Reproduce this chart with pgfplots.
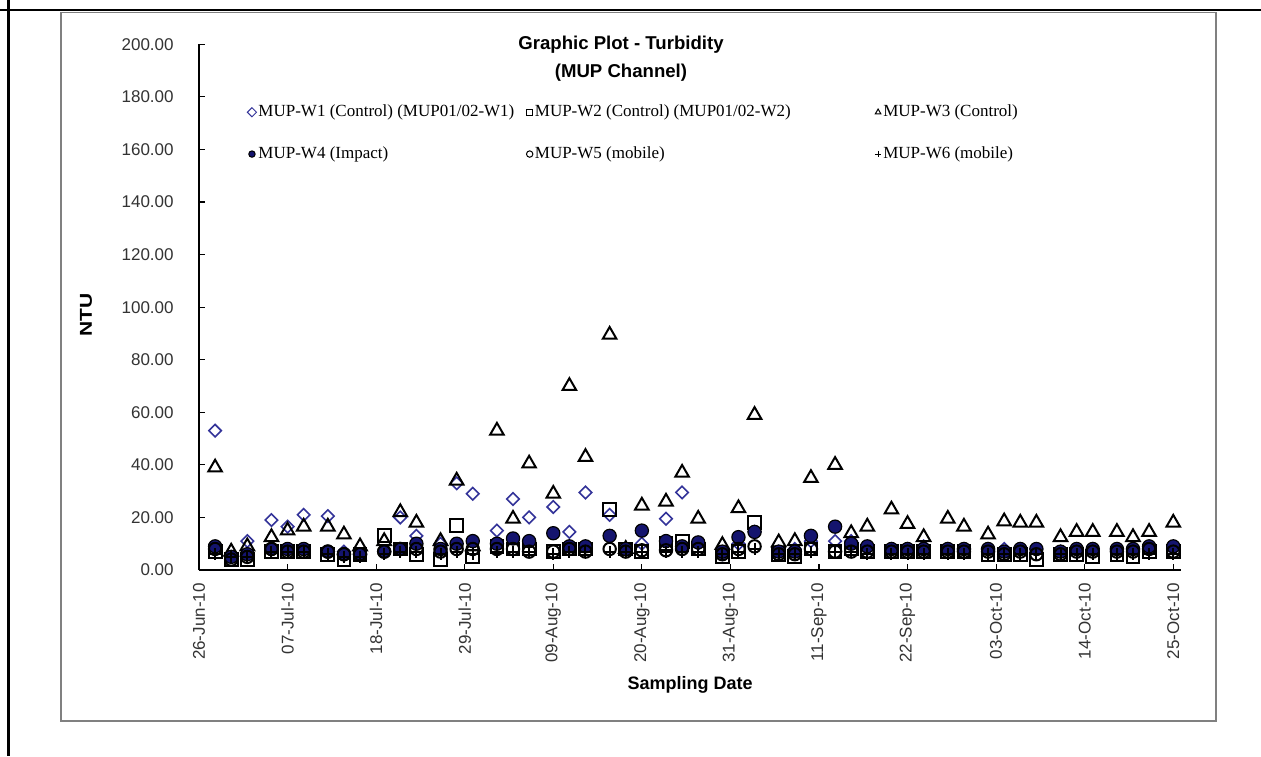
\documentclass[border=0pt]{standalone}
\usepackage{pgfplots}
\usepackage{pgfplotstable}
\pgfplotsset{compat=1.18}
\usepackage{fontspec}
\setmainfont{Liberation Sans}
\newfontfamily\legfont{Liberation Serif}

\definecolor{wblue}{HTML}{333399}
\definecolor{wnavy}{HTML}{14146E}

% Turbidity (NTU) per sampling day; d = days after 26-Jun-10
\pgfplotstableread{
d    w1   w2   w3    w4    w5   w6
2    53   7    39    9     8    6
4    5    4    7     5     4    5
6    11   4    9     6     5    5
9    19   7    12.5  8     8    7
11   16.5 7    15    8     7    7
13   21   7    16.5  8     7    7
16   20.5 6    16.5  7     7    6
18   7    4    13.5  6     6    5
20   6    6    9     6     6    5
23   7    13   11    7     7    6
25   20   8    22    8     8    7
27   13   6    18    10    8    7
30   10   4    11    8     7    6
32   33   17   34    10    8    7
34   29   5    9     11    8    6
37   15   9    53    10    8    7
39   27   8    19.5  12    8    7
41   20   8    40.5  11    7    7
44   24   7    29    14    7    6
46   14.5 8    70    9     8    7
48   29.5 8    43    9     7    7
51   21   23   89.5  13    8    7
53   8    8    8     8     7    7
55   10   7    24.5  15    7.5  7
58   19.5 10   26    11    7.5  7
60   29.5 11   37    9     8    7
62   10   8    19.5  10.5  8    7
65   6    5    9.5   7     6    6
67   10   7    23.5  12.5  8    7
69   14.5 18   59    14.5  9    8
72   7    6    10.5  7     6    6
74   8    5    11    7     6    6
76   11   8    35    13    8    7
79   11   7    40    16.5  7    7
81   11   8    14    10    7    7
83   8    7    16.5  9     7    6
86   8    7    23    8     7    6
88   8    7    17.5  8     7    6
90   9    7    12.5  8     7    6
93   8    7    19.5  8     7    6
95   8    7    16.5  8     7    6
98   8    6    13.5  8     7    6
100  8    6    18.5  7     6    6
102  8    6    18    8     7    6
104  8    4    18    8     6    6
107  7    6    12.5  7     6    6
109  8    6    14.5  8     7    6
111  8    5    14.5  8     7    6
114  8    6    14.5  8     7    6
116  8    5    12.5  8     7    6
118  8    7    14.5  9     8    6
121  8    7    18    9     7    6
}\turb

\pgfplotsset{
  legmark/.style={legend image code/.code={%
    \draw[##1,mark size=1.6pt,line width=0.5pt] plot coordinates {(0pt,0pt)};}},
}

\begin{document}
\begin{tikzpicture}
\path[use as bounding box] (0,0) rectangle (630.5pt,-378pt);
\fill[white] (0,0) rectangle (630.5pt,-378pt);
% page rules
\draw[line width=1.2pt] (0,-5pt) -- (630.5pt,-5pt);
\draw[line width=1.2pt] (4.3pt,0) -- (4.3pt,-378pt);
% chart frame
\draw[black!50, line width=0.6pt] (30.5pt,-6.2pt) rectangle (608pt,-360.5pt);
\begin{axis}[
  at={(99.5pt,-285pt)}, anchor=south west,
  scale only axis, width=491.15pt, height=262.85pt,
  xmin=0, xmax=122, ymin=0, ymax=200,
  axis x line*=bottom, axis y line*=left,
  axis line style={black, line width=0.6pt},
  tick align=inside, major tick length=3pt,
  tick style={black, line width=0.6pt},
  xtick={0,11,...,121},
  xticklabels={26-Jun-10,07-Jul-10,18-Jul-10,29-Jul-10,09-Aug-10,20-Aug-10,31-Aug-10,11-Sep-10,22-Sep-10,03-Oct-10,14-Oct-10,25-Oct-10},
  ytick={0,20,...,200},
  /pgf/number format/assume math mode=true,
  y tick label style={/pgf/number format/fixed, /pgf/number format/fixed zerofill,
    /pgf/number format/precision=2, /pgf/number format/1000 sep={}},
  tick label style={font=\fontsize{8.5}{10}\selectfont, text=black!80},
  xticklabel style={rotate=90, anchor=east, inner sep=0pt, xshift=-6.5pt},
  yticklabel style={anchor=east, inner sep=0pt, xshift=-12.5pt},
  xlabel={Sampling Date},
  xlabel style={at={(axis description cs:0.5,-0.2186)}, anchor=center, yshift=0pt,
    font=\bfseries\fontsize{9}{10}\selectfont},
  ylabel={\scalebox{1.22}[1]{NTU}},
  ylabel style={at={(axis description cs:-0.115,0.485)}, anchor=center,
    font=\bfseries\fontsize{8.6}{10}\selectfont},
  legend columns=3,
  legend cell align=left,
  legend style={at={(axis description cs:0.0428,0.897)}, anchor=north west,
    draw=none, fill=none, row sep=11.5pt,
    font=\legfont\fontsize{8.5}{10}\selectfont,
    nodes={inner sep=1pt}},
  clip=false,
]
\addplot[only marks, legmark, mark=square, mark size=2.2pt, mark options={rotate=45},
  draw=wblue, line width=0.8pt] table[x=d, y=w1] {\turb};
\addlegendentry{\makebox[133pt][l]{MUP-W1 (Control) (MUP01/02-W1)}}
\addplot[only marks, legmark, mark=square, mark size=3.2pt,
  draw=black, line width=1pt] table[x=d, y=w2] {\turb};
\addlegendentry{\makebox[169pt][l]{MUP-W2 (Control) (MUP01/02-W2)}}
\addplot[only marks, legmark, mark=triangle, mark size=3.9pt,
  draw=black, line width=1pt] table[x=d, y=w3] {\turb};
\addlegendentry{MUP-W3 (Control)}
\addplot[only marks, legmark, mark=*, mark size=3.3pt,
  draw=black, fill=wnavy, line width=0.6pt] table[x=d, y=w4] {\turb};
\addlegendentry{\makebox[133pt][l]{MUP-W4 (Impact)}}
\addplot[only marks, legmark, mark=o, mark size=3.1pt,
  draw=black, line width=1pt] table[x=d, y=w5] {\turb};
\addlegendentry{\makebox[169pt][l]{MUP-W5 (mobile)}}
\addplot[only marks, legmark, mark=+, mark size=3pt,
  draw=black, line width=1pt] table[x=d, y=w6] {\turb};
\addlegendentry{MUP-W6 (mobile)}
% two-line chart title
\node[align=center, anchor=center, font=\bfseries\fontsize{9.3}{14}\selectfont]
  at (axis description cs:0.4296,0.973) {Graphic Plot - Turbidity\\(MUP Channel)};
\end{axis}
\end{tikzpicture}
\end{document}
